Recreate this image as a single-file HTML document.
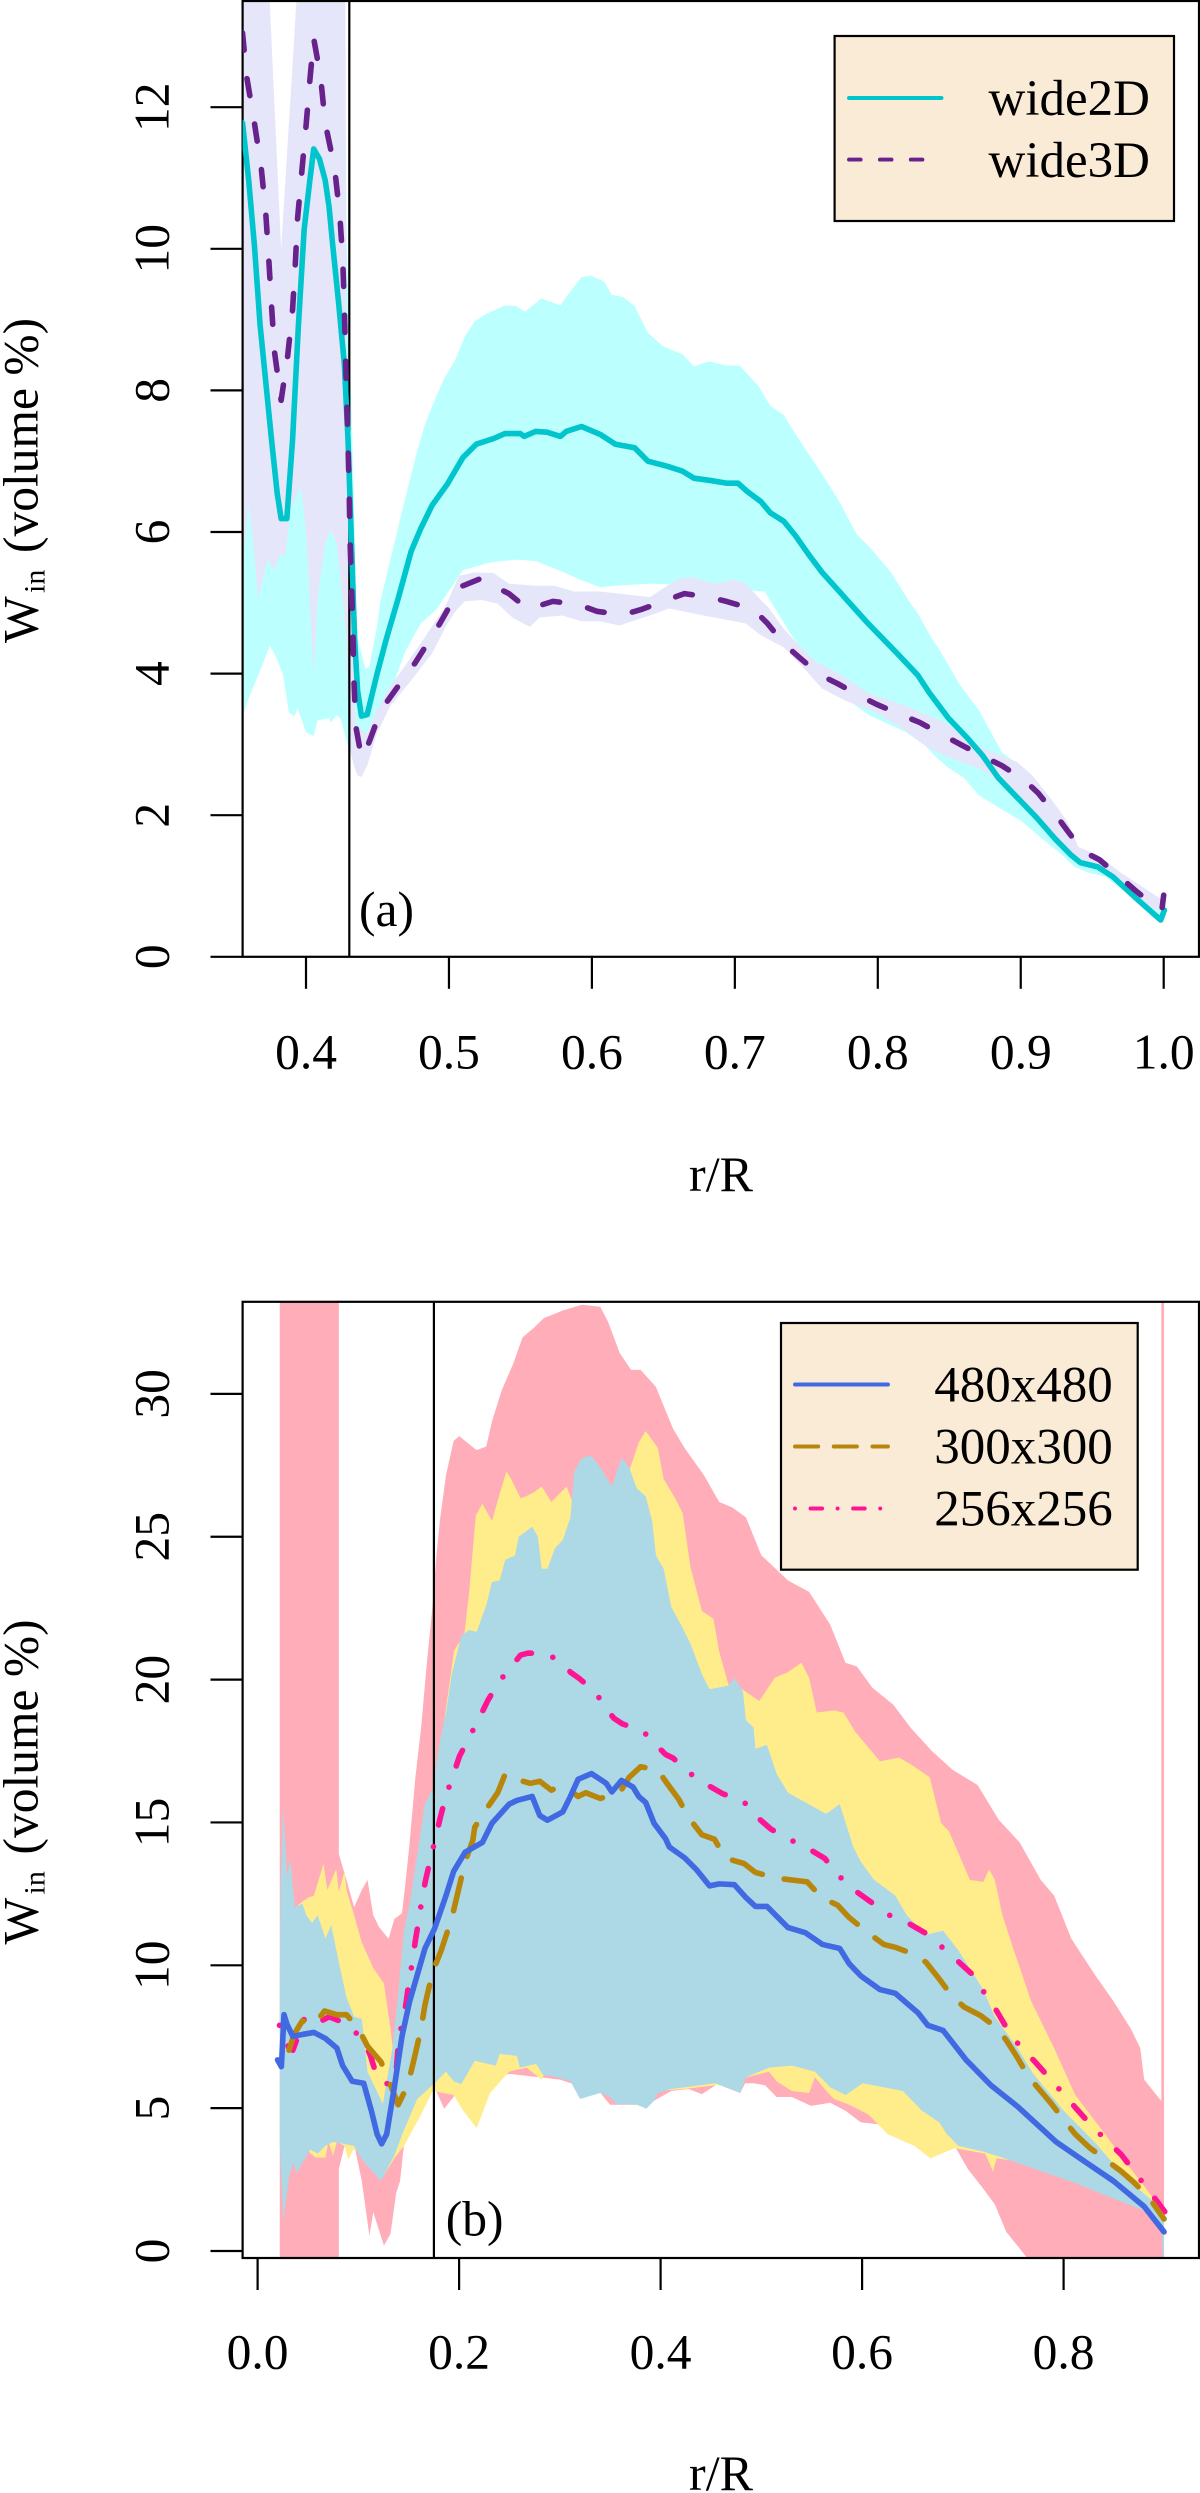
<!DOCTYPE html>
<html lang="en">
<head>
<meta charset="utf-8">
<title>Water content profiles</title>
<style>
html,body{margin:0;padding:0;background:#fff;}
svg{display:block;}
text{font-family:"Liberation Serif",serif;fill:#000;}
</style>
</head>
<body>
<svg id="figure" xmlns="http://www.w3.org/2000/svg" width="1200" height="2493" viewBox="0 0 1200 2493">
<defs>
<clipPath id="clipA"><rect x="242.6" y="1" width="956.4" height="955.8"/></clipPath>
<clipPath id="clipB"><rect x="242.6" y="1301.8" width="956.4" height="956.2"/></clipPath>
</defs>
<g id="panelA"></g>
<g id="panelB"></g>

<g>
<rect x="834.6" y="36" width="339.4" height="185" fill="#FAEBD7" stroke="#000" stroke-width="2.2"/>
<line x1="849" x2="941.5" y1="98" y2="98" stroke="#00C5CD" stroke-width="3.9" stroke-linecap="round"/>
<line x1="849" x2="923" y1="159.6" y2="159.6" stroke="#68228B" stroke-width="3.9" stroke-linecap="round" stroke-dasharray="11.6 19.3"/>
<text x="1150" y="114.8" font-size="51" text-anchor="end">wide2D</text>
<text x="1150" y="176.8" font-size="51" text-anchor="end">wide3D</text>
</g>
<g>
<rect x="781" y="1323" width="356.7" height="246.7" fill="#FAEBD7" stroke="#000" stroke-width="2.2"/>
<line x1="795" x2="888" y1="1384.5" y2="1384.5" stroke="#4169E1" stroke-width="3.9" stroke-linecap="round"/>
<line x1="795" x2="888" y1="1446.5" y2="1446.5" stroke="#B8860B" stroke-width="3.9" stroke-linecap="round" stroke-dasharray="23.2 15.5"/>
<line x1="795" x2="881" y1="1508.5" y2="1508.5" stroke="#FF1493" stroke-width="3.9" stroke-linecap="round" stroke-dasharray="0.01 15.5 11.6 15.5"/>
<text x="1112.8" y="1401.7" font-size="51" text-anchor="end">480x480</text>
<text x="1112.8" y="1463.7" font-size="51" text-anchor="end">300x300</text>
<text x="1112.8" y="1525.3" font-size="51" text-anchor="end">256x256</text>
</g>
</svg>
<script>
// ---------- Panel (a) data: [r/R, W_in] ----------
const ticksAX = [0.4,0.5,0.6,0.7,0.8,0.9,1.0];
const tickLabelsAX = ["0.4","0.5","0.6","0.7","0.8","0.9","1.0"];
const ticksAY = [0,2,4,6,8,10,12];
const tickLabelsAY = ["0","2","4","6","8","10","12"];
const dividerA = 0.4303;

const wide2DUpper = [[.3556,13],[.3826,9],[.4054,14],[.4268,14],[.4285,10],[.4313,8.1],[.4335,6.5],[.4348,5.04],[.4361,4.49],[.4415,4.07],[.4442,4.09],[.4495,4.65],[.4522,5.04],[.4669,6.27],[.4763,7.03],[.483,7.51],[.4883,7.78],[.4964,8.16],[.5044,8.43],[.5111,8.76],[.5178,8.97],[.5258,9.08],[.5392,9.2],[.5472,9.19],[.5531,9.11],[.5646,9.3],[.578,9.2],[.582,9.32],[.5927,9.6],[.5994,9.62],[.6085,9.54],[.6138,9.35],[.6218,9.32],[.6299,9.19],[.6392,8.81],[.6499,8.62],[.6633,8.51],[.6714,8.34],[.6821,8.41],[.6941,8.35],[.7035,8.35],[.7169,8.05],[.7249,7.78],[.7343,7.65],[.741,7.43],[.7503,7.14],[.7597,6.86],[.7731,6.43],[.7851,5.97],[.7945,5.78],[.8092,5.43],[.8213,5.04],[.8279,4.85],[.8373,4.51],[.8427,4.35],[.8574,3.84],[.8708,3.48],[.8868,2.89],[.8975,2.73],[.927,2.03],[.9404,1.53],[.9671,1.19],[.9993,.69]];
const wide2DLower = [[.3556,3.4],[.3599,3.65],[.3679,4.04],[.3746,4.39],[.3786,4.26],[.384,3.98],[.388,3.45],[.392,3.4],[.3941,3.51],[.4,3.17],[.4054,3.12],[.4081,3.34],[.4161,3.37],[.4174,3.31],[.4214,3.41],[.4241,3.37],[.4302,2.92],[.4401,3.06],[.4495,3.42],[.4589,3.73],[.4696,4.32],[.4803,4.71],[.491,4.9],[.5097,5.46],[.5285,5.57],[.5472,5.61],[.5606,5.59],[.5767,5.46],[.5927,5.32],[.6058,5.22],[.6165,5.24],[.6406,5.27],[.654,5.26],[.7209,5.16],[.7396,4.54],[.7664,3.82],[.7931,3.42],[.8199,3.17],[.8333,2.98],[.8413,2.81],[.8494,2.67],[.8601,2.53],[.8708,2.28],[.8868,2.08],[.9002,1.92],[.9136,1.69],[.927,1.47],[.9377,1.27],[.9457,1.2],[.9591,1.13],[.9752,.88],[.9912,.63],[.9993,.52]];
const wide3DUpper = [[.3556,14.5],[.3746,13.5],[.3826,10],[.3933,13.5],[.405,15],[.4268,14.5],[.4276,13.51],[.4281,8.92],[.4308,5.68],[.4335,3.93],[.4348,3.26],[.4428,3.15],[.4495,3.48],[.4589,3.82],[.4696,4.12],[.4803,4.43],[.4923,4.79],[.4977,4.96],[.5071,5.38],[.5178,5.43],[.5312,5.42],[.5419,5.27],[.5606,5.24],[.574,5.24],[.5874,5.16],[.6056,5.16],[.6406,5.08],[.6593,5.33],[.67,5.36],[.6861,5.27],[.6995,5.33],[.7075,5.27],[.7182,5.04],[.7236,4.93],[.7343,4.63],[.745,4.4],[.7557,4.18],[.7717,4.01],[.7931,3.73],[.8199,3.54],[.8467,3.31],[.8734,2.95],[.8975,2.75],[.9082,2.56],[.9216,2.22],[.9323,1.92],[.9404,1.55],[.9538,1.44],[.9698,1.19],[.9993,.8]];
const wide3DLower = [[.3556,5.04],[.3566,5.68],[.3599,6.43],[.3639,5.68],[.3665,5.04],[.3732,5.62],[.3772,5.46],[.3826,5.7],[.3853,5.65],[.3893,6.32],[.3965,6.65],[.4,6],[.4027,5.04],[.4054,3.96],[.408,5.04],[.4134,5.84],[.4174,6.03],[.4214,5.84],[.4254,5.08],[.4281,4.49],[.4302,2.98],[.4335,2.7],[.4361,2.56],[.4388,2.54],[.4428,2.7],[.4495,3.15],[.4589,3.54],[.4723,3.87],[.4883,4.29],[.499,4.71],[.5057,4.91],[.5111,5.02],[.5231,5.04],[.5338,4.99],[.5445,4.79],[.5566,4.66],[.5633,4.79],[.5793,4.82],[.5927,4.74],[.6056,4.74],[.6192,4.68],[.6406,4.82],[.654,4.92],[.6781,4.82],[.7075,4.71],[.7182,4.54],[.7343,4.37],[.7476,4.09],[.761,3.79],[.7771,3.62],[.7985,3.45],[.8146,3.26],[.8333,2.98],[.8467,2.84],[.8734,2.64],[.8842,2.47],[.9002,2.2],[.9216,1.75],[.9377,1.41],[.9538,1.3],[.9805,.8],[.9993,.63]];
const wide2DMean = [[.3556,11.78],[.3599,10.97],[.3639,10.05],[.3679,8.92],[.3719,8.11],[.3759,7.3],[.3799,6.54],[.3826,6.19],[.3866,6.19],[.3906,7.3],[.3947,8.92],[.3987,10.27],[.4027,10.97],[.4054,11.41],[.4094,11.27],[.4134,10.97],[.4161,10.6],[.4187,10.05],[.4228,9.24],[.4268,8.38],[.4294,7.3],[.4321,5.68],[.434,4.49],[.4361,3.76],[.4388,3.4],[.4428,3.42],[.4495,3.98],[.4562,4.49],[.4642,5.04],[.4736,5.73],[.4803,6.05],[.4883,6.38],[.499,6.68],[.5097,7.05],[.5191,7.24],[.5312,7.32],[.5392,7.39],[.5499,7.39],[.5526,7.35],[.5606,7.42],[.5686,7.41],[.578,7.35],[.582,7.42],[.5927,7.49],[.6056,7.38],[.6165,7.24],[.6299,7.19],[.6392,7],[.6526,6.93],[.6633,6.86],[.6714,6.76],[.6821,6.73],[.6941,6.69],[.7021,6.69],[.7088,6.57],[.7182,6.43],[.7249,6.27],[.7343,6.15],[.7423,5.95],[.7517,5.68],[.761,5.43],[.7731,5.16],[.7784,5.04],[.7931,4.71],[.8119,4.32],[.8279,3.98],[.836,3.73],[.8494,3.37],[.8627,3.09],[.8734,2.84],[.8842,2.53],[.8975,2.25],[.9109,1.97],[.9243,1.66],[.935,1.44],[.9417,1.33],[.9538,1.27],[.9645,1.13],[.9805,.83],[.9979,.52],[1.0005,.66]];
const wide3DMean = [[.3556,13.05],[.3585,12.43],[.3639,11.78],[.3687,11.14],[.3719,10.49],[.374,9.84],[.3759,9.19],[.378,8.54],[.3826,7.86],[.3872,8.49],[.3906,9.14],[.3925,9.78],[.3941,10.43],[.3973,11.14],[.4,11.73],[.4027,12.38],[.4054,12.97],[.4102,12.43],[.4134,11.78],[.42,11.14],[.4236,10.49],[.4257,9.84],[.4268,9.19],[.4276,8.54],[.4284,7.89],[.4294,7.24],[.4302,6.59],[.4308,5.89],[.4327,4.71],[.4335,3.93],[.4348,3.26],[.4388,2.81],[.4415,2.89],[.4509,3.4],[.4562,3.59],[.4683,3.93],[.4763,4.15],[.487,4.49],[.4937,4.71],[.503,5.04],[.5097,5.24],[.5231,5.35],[.5312,5.24],[.5419,5.13],[.5553,4.91],[.5727,5.02],[.59,4.98],[.6034,4.88],[.6218,4.83],[.6352,4.91],[.6526,5.04],[.6647,5.13],[.682,5.08],[.6941,5.02],[.7128,4.91],[.7228,4.71],[.7343,4.42],[.745,4.23],[.7597,3.98],[.7717,3.86],[.7878,3.68],[.7998,3.56],[.8172,3.41],[.8293,3.31],[.8467,3.12],[.8587,2.99],[.8748,2.82],[.8868,2.7],[.9029,2.49],[.9123,2.31],[.9243,2.01],[.9323,1.79],[.9436,1.49],[.9551,1.37],[.9698,1.12],[.98,.94],[.9952,.69],[.9987,.66],[1,.87]];

// ---------- Panel (b) data: [r/R, W_in] ----------
const ticksBX = [0,0.2,0.4,0.6,0.8];
const tickLabelsBX = ["0.0","0.2","0.4","0.6","0.8"];
const ticksBY = [0,5,10,15,20,25,30];
const tickLabelsBY = ["0","5","10","15","20","25","30"];
const dividerB = 0.175;

const band480Upper = [[.022,9.7],[.0228,12.71],[.0255,15.5],[.0293,13.09],[.0323,13.76],[.0369,12.03],[.0445,12.16],[.0483,11.75],[.054,11.48],[.0597,11.75],[.0673,10.93],[.073,11.41],[.0787,10.45],[.0806,10.11],[.0882,8.88],[.0958,8.2],[.1034,8.13],[.1091,6.28],[.1243,5.15],[.1338,7.1],[.1395,9],[.1452,11.21],[.1509,12.16],[.1585,13.9],[.1661,15.64],[.1737,16.17],[.1813,17.91],[.187,18.85],[.1927,20.19],[.2022,21.53],[.2098,21.73],[.2174,21.67],[.2269,22.6],[.2326,23.41],[.2402,23.47],[.2459,24.2],[.2554,24.34],[.2592,25],[.2725,25.35],[.2782,25],[.282,23.88],[.2877,23.88],[.2953,24.61],[.3029,24.88],[.3105,25.68],[.3143,27.29],[.3219,27.76],[.3314,27.83],[.3401,27.43],[.3517,26.76],[.3612,27.76],[.3688,27.43],[.3764,26.69],[.3852,26.42],[.3916,25.55],[.3954,24.35],[.403,23.88],[.4106,22.54],[.4201,21.93],[.4296,21.26],[.441,20.19],[.4486,19.66],[.4676,19.79],[.4733,20.06],[.4817,19.59],[.4847,18.58],[.4923,18.32],[.4942,17.58],[.5056,17.71],[.5151,16.71],[.5265,16.04],[.5607,15.37],[.5645,15.3],[.5778,15.64],[.5911,14.16],[.5987,13.63],[.612,12.99],[.6329,12.44],[.6443,11.75],[.6633,11.07],[.6804,11.21],[.6956,10.52],[.7203,9.15],[.7317,8.2],[.7545,7.1],[.7697,6.21],[.8001,4.91],[.8305,3.82],[.8609,2.59],[.8875,1.77],[.8997,1.22]];
const band480Lower = [[.022,3.68],[.0255,1.08],[.0312,2.59],[.035,3.07],[.0388,2.72],[.0464,3.2],[.0521,3.55],[.0597,3.41],[.0673,3.68],[.0749,3.82],[.0958,3.68],[.1034,3.2],[.1224,2.45],[.1357,3.34],[.1452,4.23],[.1585,5.32],[.1756,5.87],[.187,6.28],[.1946,5.94],[.2022,5.84],[.2155,6.66],[.2364,6.49],[.2402,6.9],[.2573,6.83],[.2603,6.42],[.2763,6.55],[.2839,6.14],[.2915,6.14],[.3105,5.94],[.32,5.32],[.3401,5.53],[.3498,5.39],[.3555,5.16],[.3764,5.12],[.3859,4.98],[.3935,5.26],[.3973,5.53],[.4106,5.67],[.4543,5.87],[.479,5.53],[.4847,6.08],[.5075,6.42],[.5303,6.49],[.5531,6.28],[.5683,5.73],[.5835,5.46],[.6006,5.87],[.6405,5.6],[.6595,4.91],[.6766,4.5],[.6842,4.09],[.6956,3.68],[.7203,3.48],[.7393,3.27],[.7697,2.89],[.8115,2.38],[.8495,1.83],[.8799,1.42],[.897,.95],[.8997,-1]];
const band300Upper = [[.022,7.5],[.0369,12],[.0445,12.23],[.0502,12.37],[.0559,12.44],[.0654,13.56],[.0692,12.64],[.078,13.36],[.0806,12.58],[.0863,13.29],[.0882,12.64],[.0958,11.75],[.1034,10.8],[.1148,9.91],[.1254,9.36],[.1319,7.79],[.135,6.83],[.1414,6.14],[.1471,8.2],[.1623,10.93],[.175,16],[.195,21],[.2052,21.6],[.2098,23],[.2166,25.75],[.2231,26.15],[.2326,25.55],[.2402,26.49],[.247,27.29],[.2516,27.02],[.2611,26.35],[.2668,26.42],[.2744,26.56],[.282,26.76],[.2915,26.22],[.3067,26.76],[.3124,26.22],[.3143,25.95],[.34,26.5],[.3669,27],[.37,27.43],[.3783,28.3],[.3852,28.7],[.3973,28.1],[.403,27.02],[.4144,26.35],[.422,25.82],[.4296,23.94],[.441,22.4],[.4524,22.13],[.4581,20.99],[.4676,19.79],[.4809,19.66],[.498,19.25],[.5132,20.06],[.5265,20.26],[.5398,20.59],[.5474,20.06],[.555,18.85],[.5721,18.92],[.5816,18.85],[.593,18.18],[.6177,17.14],[.6367,17.27],[.6481,17.04],[.6671,16.58],[.6785,14.97],[.6861,14.7],[.707,12.99],[.7203,12.92],[.726,13.36],[.7317,12.99],[.7393,11.75],[.7507,10.52],[.7678,8.74],[.7906,7.1],[.8115,5.46],[.8381,4.23],[.8647,2.97],[.8997,1.36]];
const band300Lower = [[.022,7.5],[.0426,4.78],[.0445,3.07],[.0483,3.55],[.0578,3.27],[.0673,3.27],[.0703,3.82],[.0749,3.34],[.0787,3.82],[.0863,3.68],[.0901,3.2],[.0958,3.6],[.1243,2.59],[.1357,3.24],[.1452,3.68],[.1623,4.78],[.1737,5.6],[.1946,5.46],[.2041,4.91],[.2174,4.3],[.2307,5.53],[.2497,6.28],[.2668,6.42],[.282,6],[.2858,6.28],[.3401,6.14],[.3897,5.32],[.3973,5.6],[.4239,5.67],[.4543,5.8],[.5075,6.28],[.5151,5.94],[.5303,5.6],[.5474,5.53],[.5531,6.08],[.5645,5.6],[.5721,5.32],[.5873,5.12],[.6063,4.78],[.6253,4.09],[.6519,3.68],[.6679,3.24],[.6918,3.6],[.7222,3.41],[.7298,2.79],[.7336,3.24],[.7583,3.13],[.7963,2.72],[.8343,2.18],[.8997,1.08]];
const band256Upper = [[.022,40],[.0806,40],[.0806,13.9],[.0882,12.99],[.0958,12.03],[.1034,12.64],[.1091,12.99],[.1148,11.75],[.1205,11.34],[.13,10.93],[.1357,11.62],[.1433,11.82],[.1471,12.99],[.1509,14.3],[.1566,16.58],[.1623,18.32],[.168,20.59],[.1737,22.6],[.1775,24.35],[.1813,25.68],[.187,27.16],[.1946,28.36],[.2003,28.52],[.2079,28.3],[.2174,28.03],[.2269,28.16],[.2326,29.03],[.2421,30.11],[.2535,31.04],[.263,31.98],[.2744,32.32],[.2839,32.65],[.3029,32.92],[.3219,33.12],[.3401,33.05],[.3479,32.52],[.3593,31.44],[.3707,30.84],[.3802,30.84],[.3954,30.24],[.4125,28.77],[.4239,28.1],[.4429,27.16],[.4581,26.22],[.4714,26.02],[.4847,25.68],[.5,24.35],[.5265,23.47],[.5474,23.07],[.5683,21.93],[.5835,20.59],[.5949,20.46],[.6101,19.72],[.631,19.12],[.6481,18.32],[.669,17.51],[.6899,16.84],[.7146,16.31],[.7355,15.1],[.7564,14.3],[.7773,12.99],[.7906,12.44],[.8077,10.93],[.8305,9.7],[.8495,8.74],[.8666,7.79],[.8761,7.1],[.88,6],[.897,5.25],[.897,40],[.8997,40]];
const band256Lower = [[.022,-1],[.0806,-1],[.0806,2.86],[.0863,3.68],[.0969,3.55],[.1034,2.45],[.111,.53],[.1148,1.36],[.1254,.19],[.1319,.6],[.1376,2.04],[.1414,2.45],[.1452,3.68],[.1756,5.73],[.1851,4.98],[.1946,5.39],[.1965,5.87],[.25,6.2],[.3,6],[.3403,5.53],[.3498,5.12],[.3764,5.12],[.3935,5.26],[.4106,5.6],[.4277,5.67],[.441,5.49],[.4562,5.84],[.479,5.53],[.484,5.87],[.4923,5.87],[.5037,5.8],[.5151,5.39],[.5303,5.39],[.5493,5.08],[.5683,5.19],[.5835,4.91],[.5987,4.5],[.6177,4.43],[.6443,4.23],[.6823,3.82],[.6918,3.68],[.7051,2.86],[.7203,2.18],[.7317,1.63],[.7431,.67],[.764,-.25],[.897,-1],[.8997,-1]];
const mean480 = [[.0198,6.69],[.0236,6.45],[.0262,8.27],[.0293,7.92],[.035,7.51],[.0445,7.58],[.0559,7.65],[.0673,7.44],[.0787,7.1],[.0844,6.49],[.0939,5.94],[.1053,5.87],[.1129,4.91],[.1186,4.09],[.1231,3.75],[.1281,4.09],[.1357,5.73],[.1433,7.51],[.1509,8.74],[.1661,10.59],[.1756,11.28],[.187,12.44],[.1946,13.29],[.206,13.96],[.2231,14.3],[.2326,14.97],[.2497,15.64],[.2573,15.77],[.2725,15.91],[.2801,15.24],[.2877,15.08],[.3029,15.37],[.3105,15.91],[.3181,16.51],[.3314,16.71],[.3401,16.51],[.346,16.37],[.3517,16.07],[.3612,16.47],[.3726,16.24],[.3783,15.91],[.3852,15.7],[.3935,14.97],[.4049,14.43],[.4087,14.14],[.4239,13.76],[.4353,13.36],[.4486,12.78],[.4581,12.85],[.4733,12.82],[.4847,12.37],[.4942,12.06],[.5056,12.06],[.5265,11.32],[.5436,11.14],[.5607,10.73],[.5778,10.59],[.5873,10.05],[.5987,9.63],[.6177,9.15],[.6329,9.02],[.6557,8.33],[.6652,7.9],[.6804,7.72],[.7032,6.69],[.7279,5.8],[.7545,5.05],[.7925,3.82],[.821,3.13],[.8495,2.45],[.8799,1.56],[.8997,.67]];
const mean300 = [[.0312,7.03],[.0361,7.58],[.0445,8.06],[.0559,7.92],[.0665,8.4],[.0787,8.27],[.0882,8.27],[.0996,7.81],[.1091,7.17],[.1224,6.62],[.1281,6.17],[.1395,5.12],[.149,5.8],[.1547,6.62],[.1623,7.79],[.1661,8.61],[.1737,9.77],[.182,10.5],[.1927,11.64],[.206,13.63],[.2136,14.37],[.2155,14.83],[.2269,15.46],[.2383,16.04],[.2459,16.71],[.2565,16.51],[.2706,16.37],[.2801,16.44],[.2915,16.13],[.3029,16.31],[.3181,15.91],[.3257,16.04],[.3401,15.84],[.3593,16.04],[.3688,16.58],[.3802,16.95],[.3973,16.84],[.4049,16.44],[.4182,15.8],[.4277,15.17],[.441,14.57],[.4536,14.41],[.4638,13.76],[.4828,13.56],[.4942,13.25],[.5151,13.05],[.5455,12.92],[.56,12.37],[.5759,12.1],[.5866,11.69],[.6025,11.23],[.6215,10.73],[.6329,10.63],[.6512,10.39],[.6633,10.11],[.6766,9.52],[.6892,8.92],[.7013,8.54],[.7177,8.24],[.7336,7.81],[.7431,7.38],[.7538,6.79],[.7652,6.1],[.7773,5.6],[.788,5.15],[.8013,4.54],[.8115,4.09],[.826,3.61],[.8427,3.17],[.8571,2.79],[.8704,2.38],[.8856,1.83],[.8997,1.12]];
const mean256 = [[.0217,7.9],[.0312,7.1],[.035,7.03],[.0464,8.13],[.0559,7.92],[.0711,8.2],[.0882,7.95],[.1053,7.38],[.1121,6.83],[.1186,6.08],[.1311,5.8],[.1376,6.28],[.1395,7.17],[.1433,7.99],[.1471,8.61],[.1501,9.39],[.1539,10.18],[.1566,10.87],[.16,11.59],[.1634,12.37],[.1668,12.99],[.1718,13.76],[.1775,14.57],[.1813,15.17],[.187,15.93],[.1946,16.71],[.2003,17.31],[.2105,18.01],[.2204,18.68],[.2288,19.29],[.2402,19.95],[.2535,20.53],[.2611,20.86],[.2687,20.93],[.2888,20.89],[.3055,20.46],[.3105,20.26],[.32,20.02],[.3359,19.52],[.3479,18.89],[.3536,18.65],[.362,18.45],[.3821,18.21],[.3973,17.65],[.4049,17.38],[.4125,17.25],[.4277,16.75],[.4456,16.33],[.4619,16],[.4813,15.78],[.495,15.21],[.5094,14.77],[.5265,14.43],[.5459,14.1],[.563,13.74],[.5763,13.15],[.5919,12.64],[.6082,12.23],[.6253,11.78],[.6455,11.48],[.6622,11.14],[.6785,10.66],[.6949,10.15],[.7089,9.7],[.7211,9.05],[.7336,8.4],[.7431,7.83],[.7557,7.21],[.7709,6.65],[.7838,6.14],[.7982,5.56],[.8127,4.98],[.8256,4.47],[.8408,3.93],[.8571,3.38],[.8685,2.86],[.8818,2.24],[.8951,1.63],[.9008,1.36]];

// ---------- Axis functions ----------
const NS = 'http://www.w3.org/2000/svg';
function xA(v){ return 306 + (v - 0.4) * 1429.5; }
function yA(v){ return 956.8 - v * 70.8; }
function xB(v){ return 257.6 + v * 1007.5; }
function yB(v){ return 2251 - v * 28.57; }

function make(tag, parent, attrs){
  const el = document.createElementNS(NS, tag);
  for (const k in attrs) el.setAttribute(k, attrs[k]);
  parent.appendChild(el);
  return el;
}
function pathOf(points, fx, fy){
  return points.map(function(p, i){ return (i ? 'L' : 'M') + fx(p[0]).toFixed(2) + ' ' + fy(p[1]).toFixed(2); }).join(' ');
}
function drawBand(parent, name, upper, lower, fill, fx, fy, clip){
  const el = make('path', parent, {d: pathOf(upper.concat(lower.slice().reverse()), fx, fy) + ' Z', fill: fill, 'clip-path': clip});
  
  
}
function drawLine(parent, name, points, color, dash, fx, fy, clip){
  const el = make('path', parent, {d: pathOf(points, fx, fy), fill: 'none', stroke: color, 'stroke-width': 5.6, 'stroke-linecap': 'round', 'stroke-linejoin': 'round', 'clip-path': clip});
  if (dash) el.setAttribute('stroke-dasharray', dash);
  
  
}
function drawAxes(parent, prefix, xs, xLabels, ys, yLabels, fx, fy, boxTop, boxBottom, divider, labelBaseline){
  const box = make('rect', parent, {x: 242.6, y: boxTop, width: 956.4, height: boxBottom - boxTop, fill: 'none', stroke: '#000', 'stroke-width': 2.2});
  
  
  const div = make('line', parent, {x1: fx(divider), x2: fx(divider), y1: boxTop, y2: boxBottom, stroke: '#000', 'stroke-width': 2.2});
  
  
  xs.forEach(function(v, i){
    const t = make('line', parent, {x1: fx(v), x2: fx(v), y1: boxBottom, y2: boxBottom + 32, stroke: '#000', 'stroke-width': 2.2});
    
    
    const l = make('text', parent, {x: fx(v), y: labelBaseline, 'font-size': 49.5, 'text-anchor': 'middle'});
    l.textContent = xLabels[i];
    
    
  });
  ys.forEach(function(v, i){
    const t = make('line', parent, {x1: 210.5, x2: 242.6, y1: fy(v), y2: fy(v), stroke: '#000', 'stroke-width': 2.2});
    
    
    const l = make('text', parent, {transform: 'translate(168.4 ' + fy(v) + ') rotate(-90)', 'font-size': 49.5, 'text-anchor': 'middle'});
    l.textContent = yLabels[i];
    
    
  });
}
function drawTitles(parent, prefix, titleBottom, xBaseline, tag, tagX, tagY){
  const g = make('g', parent, {transform: 'translate(37.5 ' + titleBottom + ') rotate(-90)'});
  
  
  make('text', g, {x: 0, y: 0, 'font-size': 49.5}).textContent = 'W';
  make('text', g, {x: 50, y: 7, 'font-size': 30}).textContent = 'in';
  make('text', g, {x: 90, y: 0, 'font-size': 49.5}).textContent = '(volume %)';
  const xt = make('text', parent, {x: 721, y: xBaseline, 'font-size': 50, 'text-anchor': 'middle'});
  xt.textContent = 'r/R';
  
  
  const tg = make('text', parent, {x: tagX, y: tagY, 'font-size': 49.5});
  tg.textContent = tag;
  
  
}

// ---------- Panel (a) ----------
const panelA = document.getElementById('panelA');
drawBand(panelA, 'wide2D-band', wide2DUpper, wide2DLower, '#BBFFFF', xA, yA, 'url(#clipA)');
drawBand(panelA, 'wide3D-band', wide3DUpper, wide3DLower, '#E6E6FA', xA, yA, 'url(#clipA)');
drawAxes(panelA, 'panel-a', ticksAX, tickLabelsAX, ticksAY, tickLabelsAY, xA, yA, 1, 956.8, dividerA, 1068.5);
drawLine(panelA, 'wide2D-line', wide2DMean, '#00C5CD', null, xA, yA, 'url(#clipA)');
drawLine(panelA, 'wide3D-line', wide3DMean, '#68228B', '17.25 28.75', xA, yA, 'url(#clipA)');
drawTitles(panelA, 'panel-a', 643, 1191, '(a)', 359, 926);

// ---------- Panel (b) ----------
const panelB = document.getElementById('panelB');
drawBand(panelB, 'band-256x256', band256Upper, band256Lower, '#FFAEB9', xB, yB, 'url(#clipB)');
drawBand(panelB, 'band-300x300', band300Upper, band300Lower, '#FFEC8B', xB, yB, 'url(#clipB)');
drawBand(panelB, 'band-480x480', band480Upper, band480Lower, '#ADD8E6', xB, yB, 'url(#clipB)');
drawAxes(panelB, 'panel-b', ticksBX, tickLabelsBX, ticksBY, tickLabelsBY, xB, yB, 1301.8, 2258, dividerB, 2368.7);
drawLine(panelB, 'line-256x256', mean256, '#FF1493', '0.01 22.4 16.8 22.4', xB, yB, 'url(#clipB)');
drawLine(panelB, 'line-300x300', mean300, '#B8860B', '33.6 22.4', xB, yB, 'url(#clipB)');
drawLine(panelB, 'line-480x480', mean480, '#4169E1', null, xB, yB, 'url(#clipB)');
drawTitles(panelB, 'panel-b', 1944.5, 2490, '(b)', 445.8, 2235.7);
</script>
</body>
</html>
